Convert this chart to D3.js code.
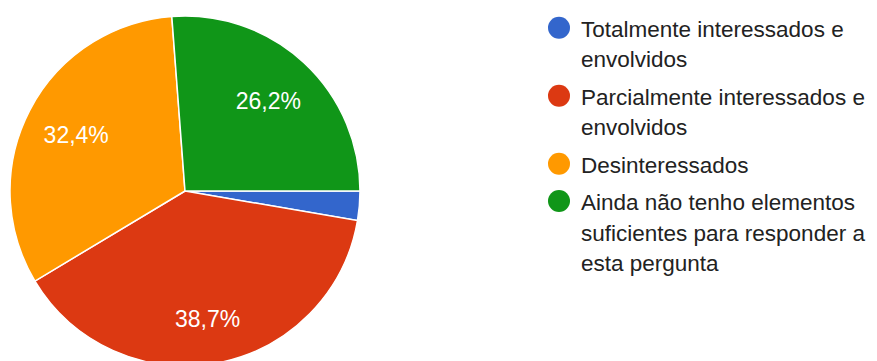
<!DOCTYPE html>
<html>
<head>
<meta charset="utf-8">
<script src="https://cdn.jsdelivr.net/npm/d3@7"></script>
<style>
  body { margin: 0; background: #fff; }
  svg { font-family: Arial, "Liberation Sans", sans-serif; }
</style>
</head>
<body>
<div id="chart"></div>
<script>

// answers, in the order they are drawn (clockwise from 3 o'clock)
var categories = [
    "Totalmente interessados e envolvidos",
    "Parcialmente interessados e envolvidos",
    "Desinteressados",
    "Ainda não tenho elementos suficientes para responder a esta pergunta"
];
var values = [2.7, 38.7, 32.4, 26.2];
var pctLabels = ["2,7%", "38,7%", "32,4%", "26,2%"];
var legendLines = [
    ["Totalmente interessados e", "envolvidos"],
    ["Parcialmente interessados e", "envolvidos"],
    ["Desinteressados"],
    ["Ainda não tenho elementos", "suficientes para responder a", "esta pergunta"]
];
var colors = ["#3366cc", "#dc3912", "#ff9900", "#109618"];

var width = 877, height = 361;
var cx = 185, cy = 191, radius = 175;

var svg = d3.select("#chart")
    .append("svg")
    .attr("width", width)
    .attr("height", height);

var pie = d3.pie()
    .sort(null)
    .value(function(d) { return d; })
    .startAngle(Math.PI / 2)
    .endAngle(Math.PI / 2 + 2 * Math.PI);

var arc = d3.arc().innerRadius(0).outerRadius(radius);
var labelArc = d3.arc().innerRadius(radius * 0.7).outerRadius(radius * 0.7);

var g = svg.append("g")
    .attr("transform", "translate(" + cx + "," + cy + ")");

var arcs = pie(values);

g.selectAll(".slice")
    .data(arcs).enter()
    .append("path")
    .attr("class", "slice")
    .attr("d", arc)
    .attr("fill", function(d, i) { return colors[i]; })
    .attr("stroke", "#fff")
    .attr("stroke-width", 1.5);

// only slices big enough get a label
g.selectAll(".pct")
    .data(arcs.filter(function(d) { return d.value > 5; })).enter()
    .append("text")
    .attr("class", "pct")
    .attr("transform", function(d) {
        var c = labelArc.centroid(d);
        // the big bottom slice sits a bit lower in the original
        if (d.index === 1) { c[1] += 8; }
        return "translate(" + c + ")";
    })
    .attr("text-anchor", "middle")
    .attr("dy", "0.35em")
    .attr("fill", "#fff")
    .style("font-size", "23px")
    .text(function(d) { return pctLabels[d.index]; });

// legend
var lineH = 30.7, gapH = 6.6;
var legend = svg.append("g").attr("transform", "translate(559,0)");
var y = 36.5;
legendLines.forEach(function(lines, i) {
    var item = legend.append("g");
    item.append("circle")
        .attr("cx", 0)
        .attr("cy", y - 8.8)
        .attr("r", 11)
        .attr("fill", colors[i]);
    lines.forEach(function(t, j) {
        item.append("text")
            .attr("x", 22)
            .attr("y", y + j * lineH)
            .attr("fill", "#222")
            .style("font-size", "22.5px")
            .text(t);
    });
    y += lines.length * lineH + gapH;
});

</script>
</body>
</html>
